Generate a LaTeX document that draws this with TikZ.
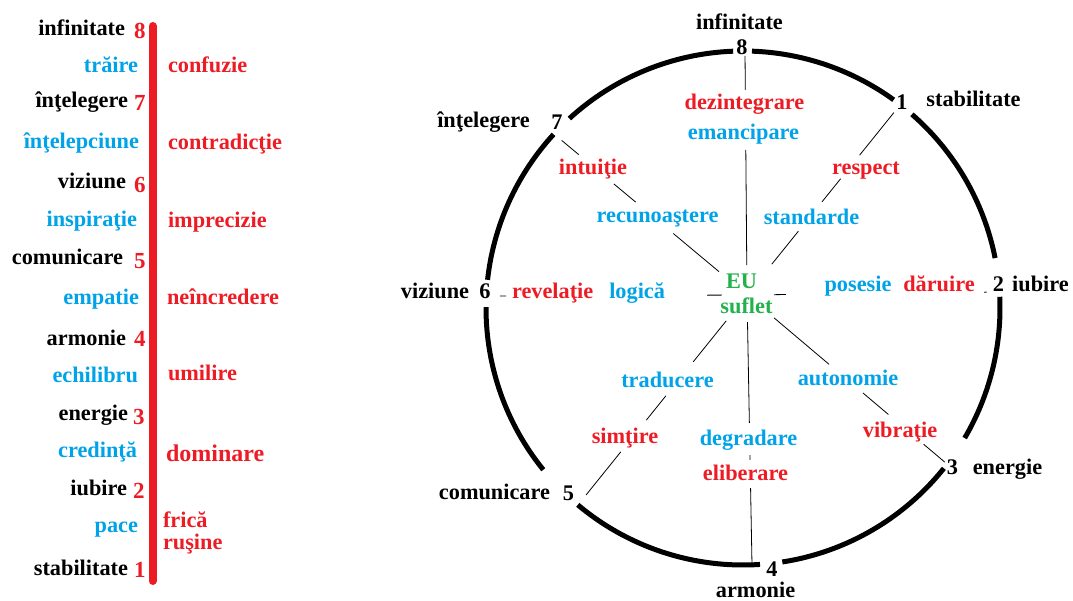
\documentclass[tikz,border=0pt]{standalone}
\usepackage{fontspec}
\setmainfont{Liberation Serif}
\usetikzlibrary{calc}
\definecolor{skyblue}{RGB}{0,162,232}
\definecolor{wordred}{RGB}{237,28,36}
\definecolor{soulgreen}{RGB}{34,177,76}
\tikzset{
  word/.style={font=\fontsize{22.3}{26}\selectfont\bfseries, inner sep=0pt, outer sep=0pt},
  plain/.style={word, text=black},
  calm/.style={word, text=skyblue},
  harsh/.style={word, text=wordred},
  soul/.style={word, text=soulgreen},
  stepnum/.style={word, text=wordred, font=\fontsize{23}{26}\selectfont\bfseries},
  ringnum/.style={word, text=black},
  spoke/.style={draw=black, line width=0.8pt},
  rim/.style={draw=black, line width=5pt},
  ladder/.style={draw=wordred, line width=8pt, line cap=round},
}
\begin{document}
\begin{tikzpicture}[x=1pt, y=-1pt]
\useasboundingbox (0,0) rectangle (1073,601);

% ---------- the ladder of steps ----------
\coordinate (bartop) at (152.5,26);
\coordinate (barbot) at (152.5,581);
\draw[ladder] (bartop) -- (barbot);

\node[plain, anchor=base east] (a8) at (125,36) {infinitate};
\node[stepnum, anchor=base west] (k8) at (134,39) {8};
\node[calm, anchor=base east] (b1) at (138,73) {trăire};
\node[harsh, anchor=base west] (c1) at (168,73) {confuzie};
\node[plain, anchor=base east] (a7) at (128,108) {înţelegere};
\node[stepnum, anchor=base west] (k7) at (134,111) {7};
\node[calm, anchor=base east] (b2) at (139,149) {înţelepciune};
\node[harsh, anchor=base west] (c2) at (168,150) {contradicţie};
\node[plain, anchor=base east] (a6) at (126,189) {viziune};
\node[stepnum, anchor=base west] (k6) at (134,193) {6};
\node[calm, anchor=base east] (b3) at (137,227) {inspiraţie};
\node[harsh, anchor=base west] (c3) at (168,228) {imprecizie};
\node[plain, anchor=base east] (a5) at (123,265) {comunicare};
\node[stepnum, anchor=base west] (k5) at (134,269) {5};
\node[calm, anchor=base east] (b4) at (139,305) {empatie};
\node[harsh, anchor=base west] (c4) at (167,305) {neîncredere};
\node[plain, anchor=base east] (a4) at (126,345) {armonie};
\node[stepnum, anchor=base west] (k4) at (134,347) {4};
\node[calm, anchor=base east] (b5) at (138,382) {echilibru};
\node[harsh, anchor=base west] (c5) at (168,381) {umilire};
\node[plain, anchor=base east] (a3) at (128,420) {energie};
\node[stepnum, anchor=base west] (k3) at (133,424) {3};
\node[calm, anchor=base east] (b6) at (137,457) {credinţă};
\node[harsh, anchor=base west, font=\fontsize{24}{26}\selectfont\bfseries] (c6) at (166,461) {dominare};
\node[plain, anchor=base east] (a2) at (127,495) {iubire};
\node[stepnum, anchor=base west] (k2) at (133,498) {2};
\node[calm, anchor=base east] (b7) at (138,532) {pace};
\node[harsh, anchor=base west] (c7) at (163,527) {frică};
\node[harsh, anchor=base west] (c8) at (163,549) {ruşine};
\node[plain, anchor=base east] (a1) at (128,575) {stabilitate};
\node[stepnum, anchor=base west] (k1) at (134,577) {1};

% ---------- the wheel ----------
\coordinate (ctr) at (743,308);
\foreach \a/\b in {92.2/132.5, 137.5/173.7, 179.8/219, 230/273.8,
                   278.8/321.4, 329.6/362.5, 11.2/48.9, 54.1/88}
  \draw[rim] ($(ctr)+(-\a:257)$) arc[start angle=-\a, end angle=-\b, radius=257];

% points where the spokes meet the rim
\coordinate (hub) at (747,295);
\coordinate (r8) at (745,52);
\coordinate (r1) at (900,105);
\coordinate (r2) at (998,292);
\coordinate (r3) at (947,464);
\coordinate (r4) at (752,565);
\coordinate (r5) at (578,505);
\coordinate (r6) at (488,296);
\coordinate (r7) at (554,134);

% numbers and names around the rim
\node[ringnum, anchor=base] (n8) at (742,55) {8};
\node[plain, anchor=base] (w8) at (739.5,30) {infinitate};
\node[ringnum, anchor=base] (n1) at (902,110) {1};
\node[plain, anchor=base] (w1) at (973.5,107) {stabilitate};
\node[ringnum, anchor=base] (n2) at (998.5,292) {2};
\node[plain, anchor=base] (w2) at (1040.5,292) {iubire};
\node[ringnum, anchor=base] (n3) at (952.5,474) {3};
\node[plain, anchor=base] (w3) at (1007.5,474) {energie};
\node[ringnum, anchor=base] (n4) at (772,576) {4};
\node[plain, anchor=base] (w4) at (755.5,597) {armonie};
\node[ringnum, anchor=base] (n5) at (568.5,500) {5};
\node[plain, anchor=base] (w5) at (494.5,499) {comunicare};
\node[ringnum, anchor=base] (n6) at (485,299) {6};
\node[plain, anchor=base] (w6) at (435,299) {viziune};
\node[ringnum, anchor=base] (n7) at (557,130) {7};
\node[plain, anchor=base] (w7) at (483.5,128) {înţelegere};

% centre
\node[soul, anchor=base] (eu) at (741.5,289) {EU};
\node[soul, anchor=base] (suflet) at (746.5,314) {suflet};

% words along the spokes
\node[harsh, anchor=base] (dez) at (744.5,110) {dezintegrare};
\node[calm, anchor=base] (ema) at (743.5,140) {emancipare};
\node[harsh, anchor=base] (res) at (866,175) {respect};
\node[calm, anchor=base] (sta) at (811.5,225) {standarde};
\node[harsh, anchor=base] (int) at (593,175) {intuiţie};
\node[calm, anchor=base] (rec) at (657.5,223) {recunoaştere};
\node[harsh, anchor=base west] (rev) at (512,299) {revelaţie};
\node[calm, anchor=base east] (log) at (665,299) {logică};
\node[calm, anchor=base] (pos) at (858,292) {posesie};
\node[harsh, anchor=base] (dar) at (939,292) {dăruire};
\node[calm, anchor=base] (tra) at (667.5,387) {traducere};
\node[harsh, anchor=base] (sim) at (625,443) {simţire};
\node[calm, anchor=base] (deg) at (748.5,445) {degradare};
\node[harsh, anchor=base] (eli) at (745.5,480) {eliberare};
\node[calm, anchor=base] (aut) at (848,385) {autonomie};
\node[harsh, anchor=base] (vib) at (900,437) {vibraţie};

% spokes, broken where the words sit
\foreach \r/\s/\e in {r8/0.123/0.597, r8/0.844/0.984,
                      r1/0.162/0.336, r1/0.49/0.612, r1/0.736/0.96,
                      r7/0.145/0.382, r7/0.577/0.69, r7/0.872/0.96,
                      r5/0.123/0.318, r5/0.48/0.596, r5/0.747/0.952,
                      r4/0.1/0.474, r4/0.593/0.611, r4/0.715/0.993,
                      r3/0.135/0.41, r3/0.58/0.707, r3/0.883/0.989,
                      r6/0.097/0.154, r6/0.93/0.954,
                      r2/0.108/0.155, r2/0.945/0.955}
  \draw[spoke] ($(hub)!\s!(\r)$) -- ($(hub)!\e!(\r)$);

\end{tikzpicture}
\end{document}
